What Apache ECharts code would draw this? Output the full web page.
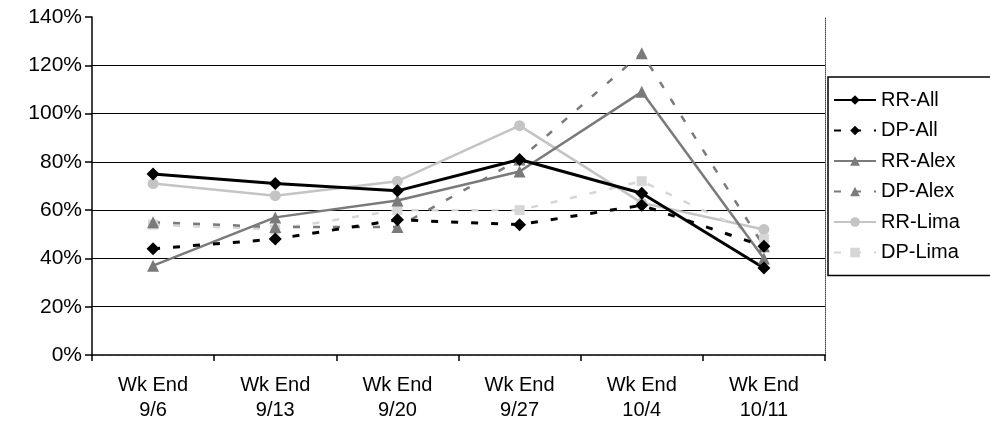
<!DOCTYPE html>
<html><head><meta charset="utf-8">
<script src="https://cdn.jsdelivr.net/npm/echarts@6/dist/echarts.min.js"></script>
<style>html,body{margin:0;padding:0;background:#fff}#c{width:990px;height:428px}</style>
</head><body><div id="c"></div>
<script>
const categories = ['Wk End\n9/6','Wk End\n9/13','Wk End\n9/20','Wk End\n9/27','Wk End\n10/4','Wk End\n10/11'];
const rrAll  = [75, 71, 68, 81, 67, 36];
const dpAll  = [44, 48, 56, 54, 62, 45];
const rrAlex = [37, 57, 64, 76, 109, 40];
const dpAlex = [55, 53, 53, 81, 125, 45];
const rrLima = [71, 66, 72, 95, 63, 52];
const dpLima = [54, 52, 60, 60, 72, 48];
const yTicks = {min: 0, max: 140, interval: 20};

const font = 'Liberation Sans, Arial, sans-serif';
function mk(name, data, color, dashed, symbol, size, width) {
  return {
    name, type: 'line', data, symbol, symbolSize: size,
    itemStyle: {color: color},
    lineStyle: {color: color, width: width, type: dashed ? [7, 13] : 'solid'},
    emphasis: {disabled: true}, animation: false
  };
}
const chart = echarts.init(document.getElementById('c'));
chart.setOption({
  backgroundColor: '#fff',
  animation: false,
  grid: {left: 92, right: 165, top: 17, bottom: 73},
  legend: {
    orient: 'vertical', left: 828, top: 77,
    itemWidth: 42, itemHeight: 12, itemGap: 10.5,
    padding: [13, 40, 13, 5],
    borderColor: '#000', borderWidth: 1.5,
    textStyle: {fontFamily: font, fontSize: 20, color: '#000'},
    data: ['RR-All','DP-All','RR-Alex','DP-Alex','RR-Lima','DP-Lima']
  },
  xAxis: [{
    type: 'category', data: categories, boundaryGap: true,
    axisLine: {lineStyle: {color: '#000', width: 1.5}},
    axisTick: {show: true, alignWithLabel: false, length: 6, lineStyle: {color: '#000', width: 1.5}},
    axisLabel: {fontFamily: font, fontSize: 20, color: '#000', margin: 18, lineHeight: 25, interval: 0}
  }, {
    type: 'category', data: categories, position: 'top', boundaryGap: true,
    axisLine: {show: true, lineStyle: {color: '#444', width: 1, type: 'dotted'}},
    axisTick: {show: false}, axisLabel: {show: false}
  }],
  yAxis: [{
    type: 'value', min: yTicks.min, max: yTicks.max, interval: yTicks.interval,
    axisLine: {show: true, lineStyle: {color: '#000', width: 1.5}},
    axisTick: {show: true, length: 7, lineStyle: {color: '#000', width: 1.5}},
    axisLabel: {formatter: '{value}%', fontFamily: font, fontSize: 21, color: '#000', margin: 10},
    splitLine: {show: true, showMaxLine: false, lineStyle: {color: '#000', width: 1.2}}
  }, {
    type: 'value', min: yTicks.min, max: yTicks.max, interval: yTicks.interval, position: 'right',
    axisLine: {show: true, lineStyle: {color: '#444', width: 1, type: 'dotted'}},
    axisTick: {show: false}, axisLabel: {show: false}, splitLine: {show: false}
  }],
  series: [
    mk('RR-Lima', rrLima, '#c4c4c4', false, 'circle', 11, 2.5),
    mk('DP-Lima', dpLima, '#d6d6d6', true, 'rect', 10, 2.5),
    mk('RR-Alex', rrAlex, '#7a7a7a', false, 'triangle', 12, 2.5),
    mk('DP-Alex', dpAlex, '#7a7a7a', true, 'triangle', 12, 2.5),
    mk('DP-All', dpAll, '#000', true, 'diamond', 13, 3),
    mk('RR-All', rrAll, '#000', false, 'diamond', 13, 3)
  ]
});
</script></body></html>
